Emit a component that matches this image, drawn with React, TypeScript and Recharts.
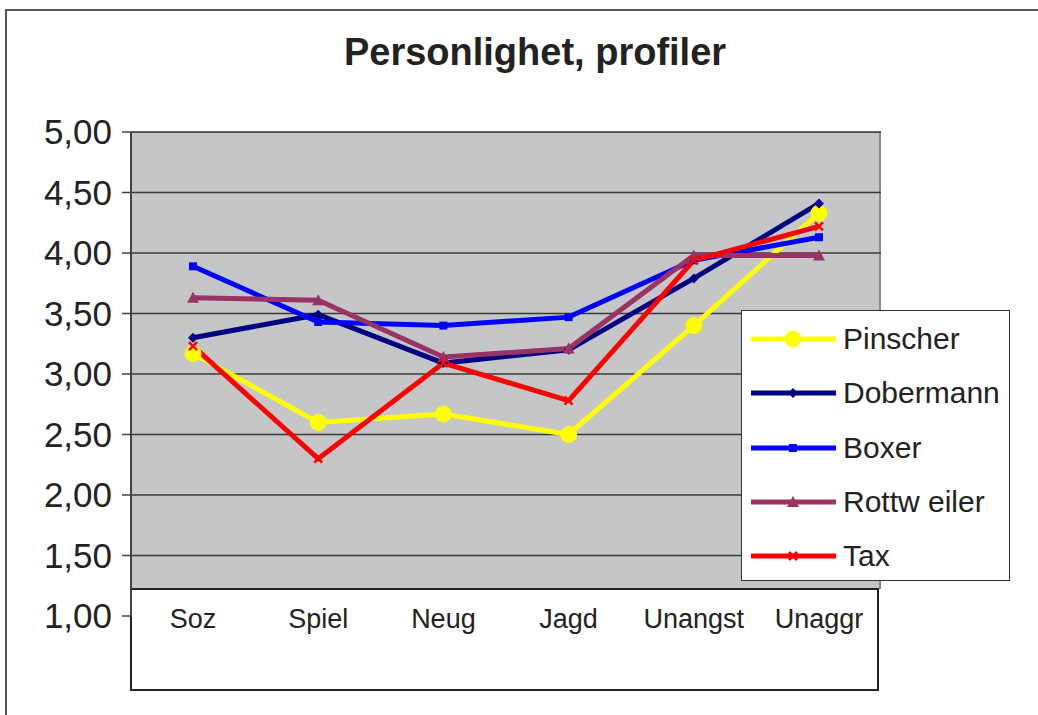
import React from 'react';
import { LineChart, Line, XAxis, YAxis, ReferenceLine, Legend } from 'recharts';

// Categories and series values
const categories = ['Soz', 'Spiel', 'Neug', 'Jagd', 'Unangst', 'Unaggr'];
const pinscher = [3.17, 2.6, 2.67, 2.5, 3.4, 4.33];
const dobermann = [3.3, 3.49, 3.09, 3.2, 3.79, 4.41];
const boxer = [3.89, 3.43, 3.4, 3.47, 3.94, 4.13];
const rottweiler = [3.63, 3.61, 3.14, 3.21, 3.98, 3.98];
const tax = [3.23, 2.3, 3.09, 2.78, 3.94, 4.22];
const yTicks = [1, 1.5, 2, 2.5, 3, 3.5, 4, 4.5, 5];

type Shape = 'circle' | 'diamond' | 'square' | 'triangle' | 'cross';

const seriesList: { key: string; name: string; color: string; shape: Shape; values: number[] }[] = [
  { key: 'pinscher', name: 'Pinscher', color: '#FFFF00', shape: 'circle', values: pinscher },
  { key: 'dobermann', name: 'Dobermann', color: '#000080', shape: 'diamond', values: dobermann },
  { key: 'boxer', name: 'Boxer', color: '#0000FF', shape: 'square', values: boxer },
  { key: 'rottweiler', name: 'Rottw eiler', color: '#993366', shape: 'triangle', values: rottweiler },
  { key: 'tax', name: 'Tax', color: '#FF0000', shape: 'cross', values: tax }
];

const data = categories.map((cat, i) => {
  const row: Record<string, string | number> = { cat };
  seriesList.forEach((s) => {
    row[s.key] = s.values[i];
  });
  return row;
});

const FONT = '"Liberation Sans", Arial, sans-serif';

const Marker = ({ cx, cy, shape, color }: { cx: number; cy: number; shape: Shape; color: string }) => {
  switch (shape) {
    case 'circle':
      return <circle cx={cx} cy={cy} r={8} fill={color} stroke={color} />;
    case 'diamond':
      return <polygon points={`${cx},${cy - 5} ${cx + 5},${cy} ${cx},${cy + 5} ${cx - 5},${cy}`} fill={color} />;
    case 'square':
      return <rect x={cx - 4} y={cy - 4} width={8} height={8} fill={color} />;
    case 'triangle':
      return <polygon points={`${cx},${cy - 6} ${cx + 6},${cy + 5} ${cx - 6},${cy + 5}`} fill={color} />;
    case 'cross':
      return (
        <g stroke={color} strokeWidth={2.5}>
          <line x1={cx - 4} y1={cy - 4} x2={cx + 4} y2={cy + 4} />
          <line x1={cx - 4} y1={cy + 4} x2={cx + 4} y2={cy - 4} />
        </g>
      );
  }
  return null;
};

const makeDot = (shape: Shape, color: string) => (props: any) => (
  <Marker key={`${shape}-${props.index}`} cx={props.cx} cy={props.cy} shape={shape} color={color} />
);

const CategoryTick = (props: any) => {
  const { x, y, payload } = props;
  return (
    <text x={x} y={y + 1} textAnchor="middle" dominantBaseline="central" fontSize={27} fill="#222" fontFamily={FONT}>
      {payload.value}
    </text>
  );
};

const LegendBox = () => (
  <div
    style={{
      width: 269,
      height: 271,
      boxSizing: 'border-box',
      border: '1.5px solid #333',
      background: '#fff',
      paddingTop: 1,
      fontFamily: FONT
    }}
  >
    {seriesList.map((s) => (
      <div key={s.key} style={{ height: 54.3, display: 'flex', alignItems: 'center' }}>
        <svg width={95} height={24}>
          <line x1={9} y1={12} x2={94} y2={12} stroke={s.color} strokeWidth={5} />
          <Marker cx={51} cy={12} shape={s.shape} color={s.color} />
        </svg>
        <span style={{ fontSize: 30, color: '#222', marginLeft: 6, whiteSpace: 'pre' }}>{s.name}</span>
      </div>
    ))}
  </div>
);

export default function App() {
  return (
    <div style={{ position: 'absolute', left: 0, top: 0, width: 1038, height: 715, background: '#fff', overflow: 'hidden' }}>
      {/* outer chart frame */}
      <div
        style={{
          position: 'absolute',
          left: 5,
          top: 9,
          width: 1040,
          height: 710,
          borderLeft: '2px solid #555',
          borderTop: '2px solid #555'
        }}
      />
      {/* plot background */}
      <div
        style={{
          position: 'absolute',
          left: 131,
          top: 132,
          width: 750,
          height: 457,
          background: '#c5c6c8',
          borderRight: '2px solid #8a8a8a',
          borderTop: '1px solid #8a8a8a',
          boxSizing: 'border-box'
        }}
      />
      {/* category label box */}
      <div
        style={{
          position: 'absolute',
          left: 130,
          top: 588,
          width: 749,
          height: 103,
          background: '#fff',
          border: '2px solid #222',
          boxSizing: 'border-box'
        }}
      />
      <div
        style={{
          position: 'absolute',
          left: 285,
          top: 33,
          width: 500,
          textAlign: 'center',
          fontFamily: FONT,
          fontWeight: 'bold',
          fontSize: 38,
          lineHeight: '38px',
          color: '#222'
        }}
      >
        Personlighet, profiler
      </div>
      <div style={{ position: 'absolute', left: 0, top: 0 }}>
        <LineChart width={1038} height={715} data={data} margin={{ top: 132, right: 157, bottom: 0, left: 0 }}>
          {yTicks
            .filter((t) => t > 1)
            .map((t) => (
              <ReferenceLine key={t} y={t} stroke="#3a3a3a" strokeWidth={1.5} />
            ))}
          <XAxis
            dataKey="cat"
            height={99}
            axisLine={false}
            tickLine={false}
            tickSize={0}
            padding={{ left: 62, right: 62 }}
            tick={<CategoryTick />}
            interval={0}
          />
          <YAxis
            width={131}
            domain={[1, 5]}
            ticks={yTicks}
            interval={0}
            tickFormatter={(v: number) => v.toFixed(2).replace('.', ',')}
            tick={{ fontSize: 35, fill: '#222', fontFamily: FONT }}
            axisLine={{ stroke: '#444', strokeWidth: 2 }}
            tickLine={{ stroke: '#444', strokeWidth: 1.5 }}
            tickSize={9}
            tickMargin={10}
          />
          <Legend
            layout="vertical"
            align="center"
            verticalAlign="middle"
            wrapperStyle={{ left: 741, top: 310, width: 269, height: 271 }}
            content={<LegendBox />}
          />
          {seriesList.map((s) => (
            <Line
              key={s.key}
              type="linear"
              dataKey={s.key}
              name={s.name}
              stroke={s.color}
              strokeWidth={5}
              dot={makeDot(s.shape, s.color)}
              activeDot={false}
              isAnimationActive={false}
            />
          ))}
        </LineChart>
      </div>
    </div>
  );
}
